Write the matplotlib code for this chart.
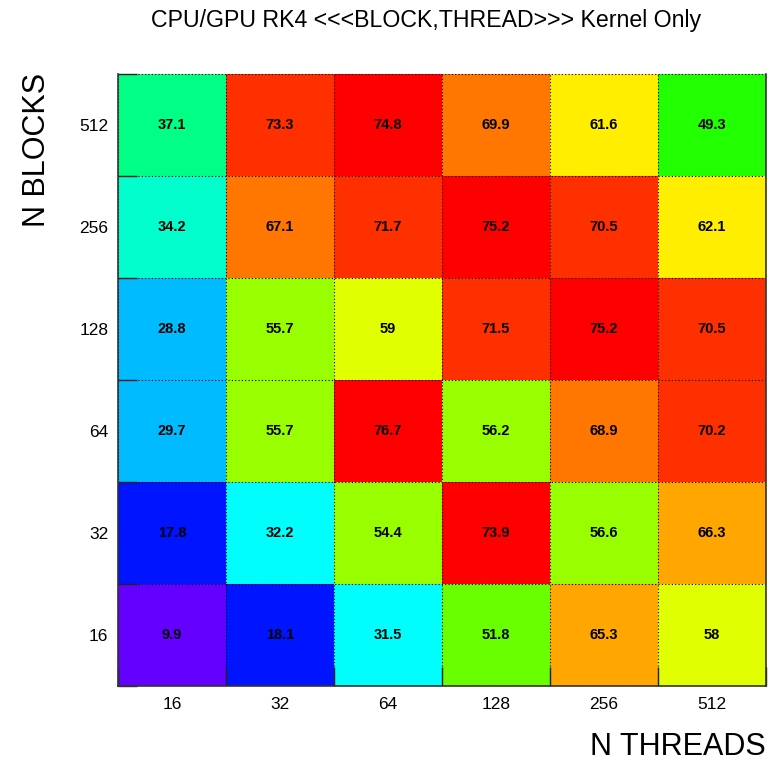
import colorsys
import numpy as np
import matplotlib
matplotlib.use("Agg")
import matplotlib.pyplot as plt
from matplotlib.colors import ListedColormap, BoundaryNorm

plt.rcParams["font.family"] = ["Liberation Sans", "DejaVu Sans"]

# kernel timings: rows = blocks, columns = threads
threads = ["16", "32", "64", "128", "256", "512"]
blocks = ["16", "32", "64", "128", "256", "512"]
row_16 = [9.9, 18.1, 31.5, 51.8, 65.3, 58]
row_32 = [17.8, 32.2, 54.4, 73.9, 56.6, 66.3]
row_64 = [29.7, 55.7, 76.7, 56.2, 68.9, 70.2]
row_128 = [28.8, 55.7, 59, 71.5, 75.2, 70.5]
row_256 = [34.2, 67.1, 71.7, 75.2, 70.5, 62.1]
row_512 = [37.1, 73.3, 74.8, 69.9, 61.6, 49.3]

z = np.array([row_16, row_32, row_64, row_128, row_256, row_512])

# ROOT "pretty" palette: 50 hues from violet to red, 20 contour levels
npal, ndivz = 50, 20
palette = []
for i in range(npal):
    hue = 280 - (i + 1) * 280 / npal
    palette.append(colorsys.hls_to_rgb(hue / 360, 0.5, 1.0))
level_colors = [palette[min(int((k + 0.99) * npal / ndivz), npal - 1)] for k in range(ndivz)]
zmin, zmax = z.min(), z.max()
levels = np.linspace(zmin, zmax, ndivz + 1)
cmap = ListedColormap(level_colors)
norm = BoundaryNorm(levels, ndivz, clip=True)

fig = plt.figure(figsize=(7.73, 7.62), dpi=100)
ax = fig.add_axes([118 / 773, 76 / 762, 648 / 773, 612 / 762])

edges = np.arange(len(threads) + 1)
ax.pcolormesh(edges, edges, z, cmap=cmap, norm=norm)

for r in range(z.shape[0]):
    for c in range(z.shape[1]):
        ax.text(c + 0.5, r + 0.5, "%g" % z[r, c], ha="center", va="center",
                fontsize=10.5, fontweight="bold", color="black")

ax.set_xlim(0, len(threads))
ax.set_ylim(0, len(blocks))

centers = np.arange(len(threads)) + 0.5
ax.set_xticks(centers)
ax.set_xticklabels(threads)
ax.set_yticks(centers)
ax.set_yticklabels(blocks)
ax.tick_params(axis="both", which="major", length=0, labelsize=12.5)
ax.tick_params(axis="x", which="major", pad=8)
ax.tick_params(axis="y", which="major", pad=7)
ax.set_xticks(edges, minor=True)
ax.set_yticks(edges, minor=True)
ax.tick_params(axis="both", which="minor", direction="in", length=14,
               width=1, color="#222222")
ax.grid(True, which="minor", color="black", linestyle=(0, (1, 2)), linewidth=0.8)

ax.spines["top"].set_visible(False)
for side in ["left", "right", "bottom"]:
    ax.spines[side].set_color("#333333")
    ax.spines[side].set_linewidth(1.2)

fig.text(426 / 773, 1 - 27 / 762, "CPU/GPU RK4 <<<BLOCK,THREAD>>> Kernel Only",
         ha="center", va="baseline", fontsize=16.7)
fig.text(766 / 773, 1 - 755 / 762, "N THREADS", ha="right", va="baseline", fontsize=22)
fig.text(22 / 773, 1 - 73 / 762, "N BLOCKS", ha="right", va="top", rotation=90,
         fontsize=22, rotation_mode="anchor")

fig.savefig("out.png", dpi=100)
